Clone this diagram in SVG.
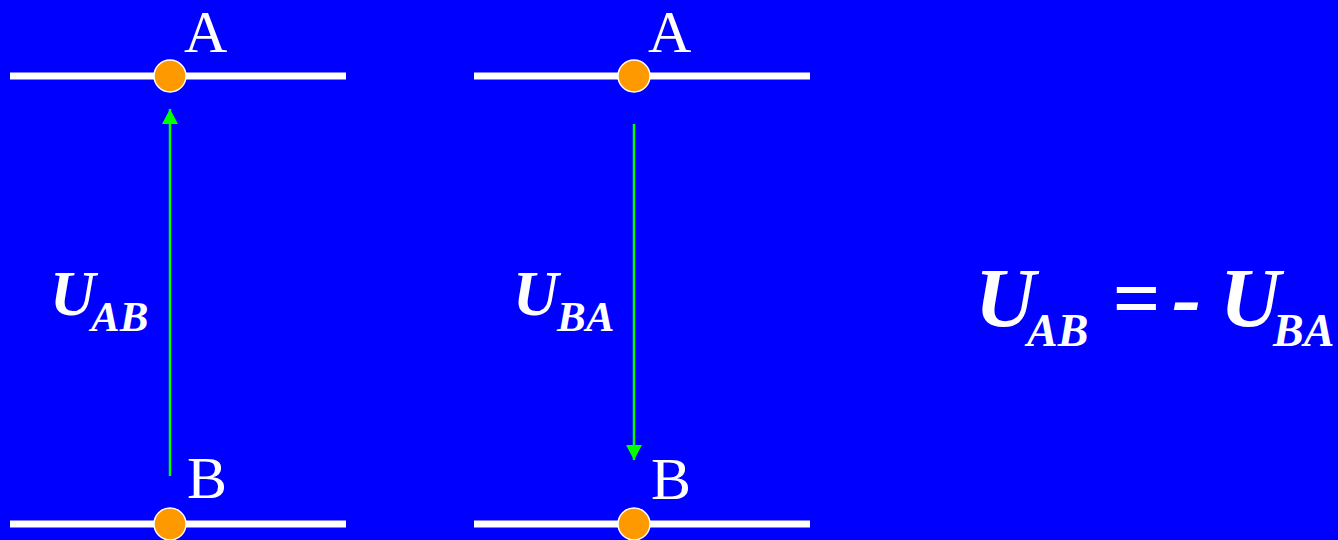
<svg xmlns="http://www.w3.org/2000/svg" width="1338" height="540" viewBox="0 0 1338 540">
<defs>
<style>
.wire{stroke:#FFFFFF;stroke-width:7;fill:none}
.node{fill:#FF9900;stroke:#FFFFFF;stroke-width:1.5}
.lbl{font-family:"Liberation Serif","Times New Roman",serif;fill:#FFFFFF;font-size:60px}
.u{font-family:"Liberation Serif","Times New Roman",serif;fill:#FFFFFF;font-weight:bold;font-style:italic}
.arr{stroke:#00FF00;stroke-width:2.5;fill:none}
</style>
<marker id="ah" markerWidth="16" markerHeight="16" refX="15" refY="8" orient="auto" markerUnits="userSpaceOnUse">
<path d="M0,0 L15,8 L0,16 Z" fill="#00FF00"/>
</marker>
</defs>
<rect width="1338" height="540" fill="#0000FF"/>
<g id="wires">
<line class="wire" x1="10" y1="76" x2="346" y2="76"/>
<line class="wire" x1="474" y1="76" x2="810" y2="76"/>
<line class="wire" x1="10" y1="524" x2="346" y2="524"/>
<line class="wire" x1="474" y1="524" x2="810" y2="524"/>
</g>
<g id="connectors">
<line class="arr" x1="170" y1="476" x2="170" y2="109" marker-end="url(#ah)"/>
<line class="arr" x1="634" y1="124" x2="634" y2="460" marker-end="url(#ah)"/>
</g>
<g id="nodeA1"><circle class="node" cx="170" cy="76" r="16"/><text class="lbl" x="184" y="52">A</text></g>
<g id="nodeA2"><circle class="node" cx="634" cy="76" r="16"/><text class="lbl" x="648" y="52">A</text></g>
<g id="nodeB1"><circle class="node" cx="170" cy="524" r="16"/><text class="lbl" x="187" y="498">B</text></g>
<g id="nodeB2"><circle class="node" cx="634" cy="524" r="16"/><text class="lbl" x="651" y="499">B</text></g>
<g id="labelUAB"><text class="u" x="50" y="315" font-size="63">U<tspan x="91" y="331" font-size="43">AB</tspan></text></g>
<g id="labelUBA"><text class="u" x="513" y="315" font-size="63">U<tspan x="557" y="331" font-size="43">BA</tspan></text></g>
<g id="equation"><text class="u" x="975" y="327" font-size="84">U<tspan x="1027" y="346" font-size="46">AB</tspan><tspan x="1112" y="327" font-size="84">=</tspan><tspan x="1172" y="327" font-size="88">-</tspan><tspan x="1220" y="327" font-size="84">U</tspan><tspan x="1273" y="346" font-size="46">BA</tspan></text></g>
</svg>
